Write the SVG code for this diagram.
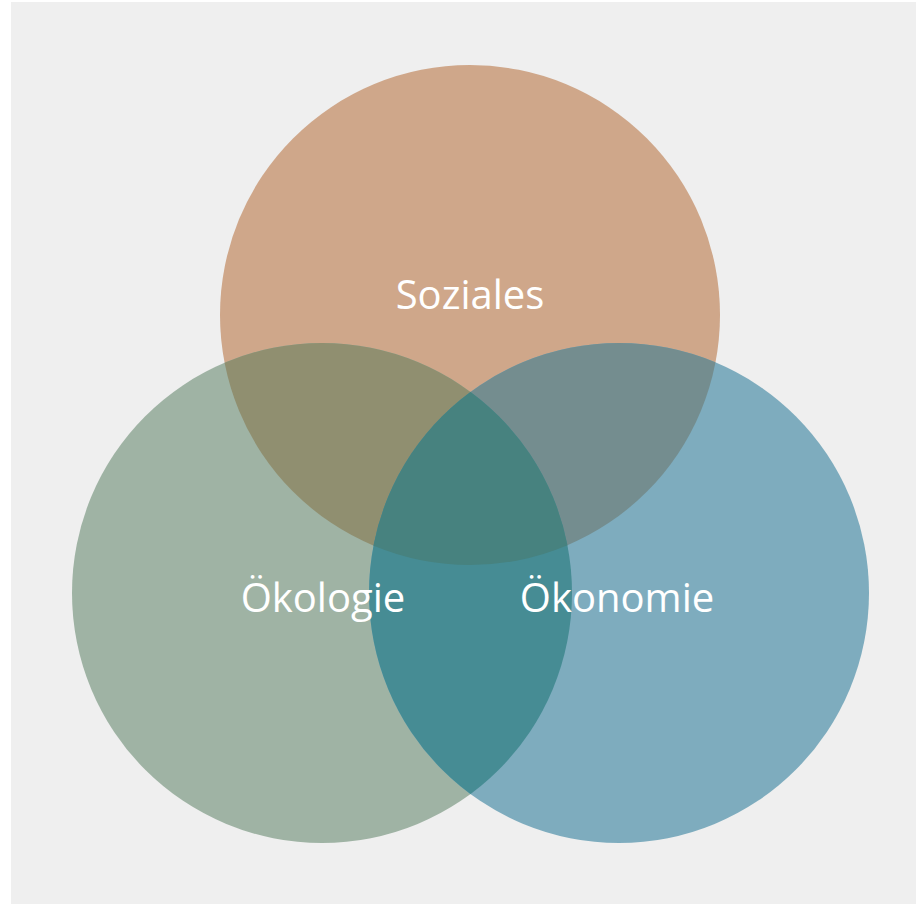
<svg xmlns="http://www.w3.org/2000/svg" width="916" height="904" viewBox="0 0 916 904">
<style>
.lbl{font-family:"Open Sans","Noto Sans","DejaVu Sans",sans-serif;font-size:40px;fill:#ffffff;text-anchor:middle}
</style>
<defs>
<clipPath id="cA"><circle cx="470" cy="315" r="250"/></clipPath>
<clipPath id="cB"><circle cx="322" cy="593" r="250"/></clipPath>
<clipPath id="cC"><circle cx="619" cy="593" r="250"/></clipPath>
</defs>
<rect x="0" y="0" width="916" height="904" fill="#ffffff"/>
<rect x="11" y="2" width="905" height="902" fill="#efefef"/>
<g id="soziales"><circle cx="470" cy="315" r="250" fill="#cfa78a"/></g>
<g id="oekologie"><circle cx="322" cy="593" r="250" fill="#9fb3a4"/></g>
<g id="oekonomie"><circle cx="619" cy="593" r="250" fill="#7eacbe"/></g>
<g id="overlaps">
<g clip-path="url(#cB)"><circle cx="470" cy="315" r="250" fill="#908f70"/></g>
<g clip-path="url(#cC)"><circle cx="470" cy="315" r="250" fill="#748d8f"/></g>
<g clip-path="url(#cC)"><circle cx="322" cy="593" r="250" fill="#468c94"/></g>
<g clip-path="url(#cC)"><g clip-path="url(#cB)"><circle cx="470" cy="315" r="250" fill="#47827f"/></g></g>
</g>
<g id="labels">
<text class="lbl" x="470" y="309">Soziales</text>
<text class="lbl" x="323" y="612">Ökologie</text>
<text class="lbl" x="617" y="612">Ökonomie</text>
</g>
</svg>
